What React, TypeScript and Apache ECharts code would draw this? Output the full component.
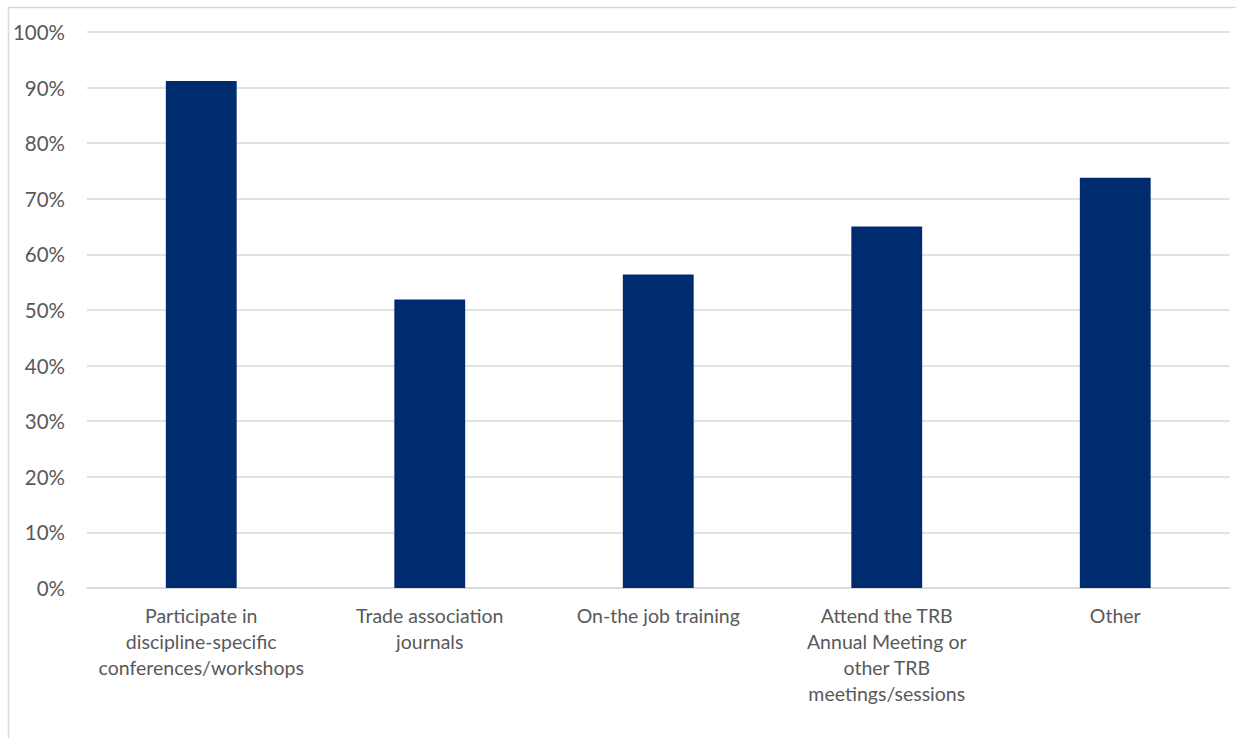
import React, { useEffect, useRef } from "react";
import * as echarts from "echarts";

const categories = [
  "Participate in\ndiscipline-specific\nconferences/workshops",
  "Trade association\njournals",
  "On-the job training",
  "Attend the TRB\nAnnual Meeting or\nother TRB\nmeetings/sessions",
  "Other",
];
const values = [91.2, 51.9, 56.4, 65.0, 73.8];
const yTicks = [0, 10, 20, 30, 40, 50, 60, 70, 80, 90, 100];

export default function App() {
  const ref = useRef<HTMLDivElement>(null);
  useEffect(() => {
    if (!ref.current) return;
    const chart = echarts.init(ref.current, undefined, { renderer: "svg" });
    const font = "Lato, 'Open Sans', sans-serif";
    chart.setOption({
      animation: false,
      backgroundColor: "#ffffff",
      grid: { left: 87, right: 6.5, top: 32, bottom: 150, containLabel: false },
      graphic: [
        { type: "line", shape: { x1: 8.5, y1: 7, x2: 8.5, y2: 738 }, style: { stroke: "#d9d9d9", lineWidth: 1.5 } },
        { type: "line", shape: { x1: 8, y1: 7.5, x2: 1236, y2: 7.5 }, style: { stroke: "#d9d9d9", lineWidth: 1.5 } },
      ],
      xAxis: {
        type: "category",
        data: categories,
        axisTick: { show: false },
        axisLine: { show: true, lineStyle: { color: "#d9d9d9", width: 1.5 } },
        axisLabel: {
          interval: 0,
          color: "#595959",
          fontFamily: font,
          fontSize: 19.5,
          lineHeight: 26,
          margin: 14,
        },
      },
      yAxis: {
        type: "value",
        min: 0,
        max: 100,
        interval: 10,
        axisLine: { show: false },
        axisTick: { show: false },
        splitLine: { lineStyle: { color: "#d9d9d9", width: 1.5 } },
        axisLabel: {
          color: "#595959",
          fontFamily: font,
          fontSize: 20.5,
          margin: 22,
          formatter: (v: number) => (yTicks.includes(v) ? v + "%" : ""),
        },
      },
      series: [
        {
          type: "bar",
          data: values,
          barWidth: "31%",
          itemStyle: { color: "#002C6F" },
        },
      ],
    });
    return () => chart.dispose();
  }, []);
  return (
    <div
      ref={ref}
      style={{ position: "absolute", left: 0, top: 0, width: 1236, height: 738 }}
    />
  );
}
